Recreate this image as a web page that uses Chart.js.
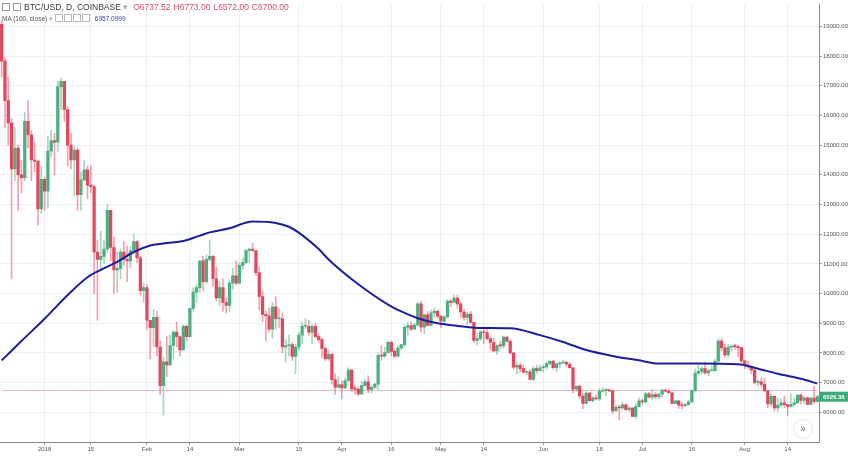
<!DOCTYPE html>
<html>
<head>
<meta charset="utf-8">
<script src="https://cdn.jsdelivr.net/npm/chart.js@4.4.0/dist/chart.umd.min.js"></script>
<style>
  body { margin: 0; background: #fff; font-family: "Liberation Sans", Arial, sans-serif; }
  #wrap { position: relative; width: 848px; height: 456px; }
  #c { position: absolute; left: 0; top: 0; }
  .leg { position: absolute; white-space: nowrap; }
  #l1 { left: 2px; top: 2px; font-size: 8.5px; color: #3a3a3a; }
  #l1 .ico { display: inline-block; width: 6px; height: 6px; border: 1px solid #999; margin-right: 3px; vertical-align: -1px; }
  #l1 .ohlc { color: #cf5068; margin-left: 5px; }
  #l1 .ohlc span { margin-right: 3px; }
  #l2 { left: 2px; top: 14px; font-size: 6.5px; color: #555; }
  #l2 .b { display: inline-block; width: 6px; height: 6px; border: 1px solid #bbb; margin-right: 1px; vertical-align: -1px; }
  #l2 .v { color: #3b3ba6; margin-left: 4px; }
  #more { position: absolute; left: 794px; top: 420px; width: 18px; height: 18px; border-radius: 50%;
          box-shadow: 0 0 2px rgba(0,0,0,0.25); background: #fff; color: #666; font-size: 10px;
          text-align: center; line-height: 17px; }
</style>
</head>
<body>
<div id="wrap">
  <canvas id="c" width="848" height="456"></canvas>
  <div class="leg" id="l1"><span class="ico"></span><span class="ico"></span>BTC/USD, D, COINBASE <span style="color:#aaa">▾</span><span class="ohlc"><span>O6737.52</span><span>H6773.00</span><span>L6572.00</span><span>C6700.00</span></span></div>
  <div class="leg" id="l2">MA (100, close) <span style="color:#aaa">▾</span> <span class="b"></span><span class="b"></span><span class="b"></span><span class="b"></span><span class="v">6957.0999</span></div>
  <div id="more">»</div>
</div>
<script>
// daily OHLC, 2017-12-19 .. 2018-08-23
const open = [
  19070,17830,16500,15750,14200,14900,14000,13900,15800,15350,14500,14450,12850,
  13850,13450,14800,15150,15100,16970,17150,16200,15000,14500,14830,13330,13830,14170,13650,13600,11400,11150,11250,11500,12800,11550,10800,10850,11400,11150,11100,11450,11750,11200,10100,
  10200,9100,8850,9200,8200,6900,7700,7600,8250,8700,8550,8100,8900,8550,9500,10050,10200,11100,10400,11150,11250,10500,9850,10200,9700,9600,10350,10600,
  10350,10950,11050,11450,11500,11450,10700,9900,9300,9250,8800,9550,9150,9150,8200,8250,8280,7880,8200,8600,8900,8900,8700,8900,8550,8450,8150,7800,7950,7100,6850,
  6930,6820,7070,7420,6790,6780,6620,6900,7030,6770,6840,6950,7920,7890,8010,8360,8050,7890,8170,8280,8860,8920,8800,8940,9650,8870,9280,8930,9350,9400,
  9240,9070,9220,9750,9700,9850,9650,9380,9200,9310,9030,8420,8480,8710,8680,8480,8350,8070,8250,8240,8530,8400,8000,7520,7580,7470,7350,7360,7110,7470,7400,
  7500,7530,7640,7720,7500,7630,7660,7690,7620,7500,6780,6880,6550,6300,6650,6390,6490,6450,6710,6740,6760,6720,6050,6170,6150,6250,6090,6140,5860,6190,
  6390,6350,6620,6510,6600,6530,6610,6750,6710,6660,6300,6390,6240,6220,6260,6350,6730,7320,7380,7470,7330,7400,7400,7720,8400,8170,7930,8190,8230,8210,8180,
  7730,7600,7540,7420,7010,7030,6940,6720,6280,6540,6150,6240,6320,6260,6200,6270,6320,6580,6400,6490,6270,6480,6360
];
const high = [
  19200,17950,17300,15900,15600,15000,14500,16100,16500,15500,15100,14500,14300,
  13900,15300,15500,15400,17150,17250,17150,16300,15400,14950,14900,14100,14500,14300,14300,13650,11800,12100,11800,13000,12800,11900,11400,11500,11750,11600,11600,12000,11800,11250,10350,
  10300,9100,9450,9400,8400,7850,8550,8600,8750,9050,8550,8950,8950,9500,10200,10300,11100,11250,11300,11800,11300,10900,10400,10500,9850,10450,10850,11100,
  11050,11200,11500,11520,11700,11450,10900,10100,9400,9500,9700,9900,9500,9350,8450,8600,8350,8300,8700,9050,9150,9100,8950,9000,8650,8500,8200,8100,7980,7300,7200,
  7050,7150,7500,7440,6920,6860,7050,7100,7200,6900,6980,8000,8250,8200,8400,8400,8150,8250,8300,8950,9050,9050,9000,9700,9750,9300,9400,9450,9500,9450,
  9250,9250,9800,9800,9950,9950,9700,9480,9370,9400,9030,8650,8750,8880,8850,8500,8500,8280,8400,8580,8550,8420,8000,7700,7650,7620,7400,7440,7540,7570,7600,
  7600,7700,7760,7760,7650,7700,7750,7700,7680,7500,6900,6890,6620,6700,6670,6540,6580,6800,6830,6800,6790,6730,6250,6240,6340,6290,6190,6170,6290,6480,
  6440,6680,6670,6770,6680,6640,6780,6800,6800,6680,6400,6400,6340,6320,6400,6750,7460,7580,7550,7690,7450,7560,7800,8480,8480,8300,8280,8230,8300,8260,8180,
  7760,7720,7540,7500,7090,7160,7150,6730,6620,6580,6480,6450,6550,6270,6620,6480,6600,6620,6550,6530,6500,6880,6570
];
const low = [
  17300,15600,15000,10500,13800,12800,13400,13800,14900,13800,14100,12300,12700,
  12800,12900,14600,14000,14800,16200,15800,14300,14200,13300,12800,12800,13800,13200,13400,10000,9100,10800,11000,11400,11100,10000,10050,10500,10950,10400,10850,11400,11050,9950,9700,
  8800,7800,8200,7900,6600,5900,7200,7600,7800,8200,7900,8100,8400,8550,9400,9700,10050,10100,10350,11100,10250,9750,9600,9400,9350,9400,10150,10300,
  10350,10800,11000,11050,11400,10600,9450,9050,8400,8700,8500,8800,8850,8000,7700,7900,7750,7300,8100,8300,8800,8600,8300,8500,8350,7850,7750,7750,6950,6600,6800,
  6450,6800,7030,6700,6600,6550,6600,6900,6650,6650,6800,6770,7750,7850,8000,7900,7850,7880,8100,8200,8600,8750,8800,8900,8700,8650,8900,8900,9200,9150,
  8850,9000,9150,9550,9700,9500,9200,9100,8950,9000,8350,8250,8420,8300,8450,8100,8030,7950,8150,8170,8350,7970,7450,7300,7350,7330,7260,7100,7060,7320,7380,
  7360,7460,7600,7450,7370,7500,7640,7550,7480,6650,6700,6450,6120,6300,6380,6340,6440,6400,6690,6560,6700,5950,6040,5750,6080,6060,6020,5850,5780,6180,
  6270,6300,6480,6430,6450,6450,6530,6700,6650,6300,6290,6130,6120,6200,6240,6330,6680,7250,7280,7280,7230,7390,7380,7700,8050,7860,7850,8070,8120,7870,7660,
  7460,7480,7300,6950,6880,6850,6700,6150,6200,6050,6020,6170,6150,5880,6170,6200,6300,6280,6300,6260,6260,6300,6340
];
const close = [
  17830,16500,15750,14200,14900,14000,13900,15800,15350,14500,14450,12850,13850,
  13450,14800,15150,15100,16970,17150,16200,15000,14500,14830,13330,13830,14170,13650,13600,11400,11150,11250,11500,12800,11550,10800,10850,11400,11150,11100,11450,11750,11200,10100,10200,
  9100,8850,9200,8200,6900,7700,7600,8250,8700,8550,8100,8900,8550,9500,10050,10200,11100,10400,11150,11250,10500,9850,10200,9700,9600,10350,10600,10350,
  10950,11050,11450,11500,11450,10700,9900,9300,9250,8800,9550,9150,9150,8200,8250,8280,7880,8200,8600,8900,8900,8700,8900,8550,8450,8150,7800,7950,7100,6850,6930,
  6820,7070,7420,6790,6780,6620,6900,7030,6770,6840,6950,7920,7890,8010,8360,8050,7890,8170,8280,8860,8920,8800,8940,9650,8870,9280,8930,9350,9400,9240,
  9070,9220,9750,9700,9850,9650,9380,9200,9310,9030,8420,8480,8710,8680,8480,8350,8070,8250,8240,8530,8400,8000,7520,7580,7470,7350,7360,7110,7470,7400,7500,
  7530,7640,7720,7500,7630,7660,7690,7620,7500,6780,6880,6550,6300,6650,6390,6490,6450,6710,6740,6760,6720,6050,6170,6150,6250,6090,6140,5860,6190,6390,
  6350,6620,6510,6600,6530,6610,6750,6710,6660,6300,6390,6240,6220,6260,6350,6730,7320,7380,7470,7330,7400,7400,7720,8400,8170,7930,8190,8230,8210,8180,7730,
  7600,7540,7420,7010,7030,6940,6720,6280,6540,6150,6240,6320,6260,6200,6270,6320,6580,6400,6490,6270,6480,6360,6526.36
];

// MA(100, close)
const maDates = ['2017-12-19','2017-12-25','2018-01-01','2018-01-08','2018-01-14','2018-01-18','2018-01-23','2018-01-28',
  '2018-02-02','2018-02-07','2018-02-12','2018-02-17','2018-02-20','2018-02-26','2018-03-05','2018-03-12','2018-03-16',
  '2018-03-20','2018-03-25','2018-03-28','2018-04-05','2018-04-15','2018-04-19','2018-04-24','2018-04-30','2018-05-07',
  '2018-05-12','2018-05-22','2018-05-31','2018-06-07','2018-06-14','2018-06-22','2018-06-30','2018-07-06',
  '2018-07-18','2018-07-30','2018-08-05','2018-08-11','2018-08-18','2018-08-23'];
const maValues = [7750,8400,9150,9950,10550,10800,11070,11400,
  11620,11700,11770,11950,12060,12200,12430,12380,12250,
  11970,11500,11150,10400,9630,9400,9170,9000,8900,
  8840,8830,8600,8370,8100,7900,7750,7640,
  7640,7620,7470,7300,7130,6970];

const tickDates = ['2018-01-01','2018-01-15','2018-02-01','2018-02-14','2018-03-01','2018-03-19','2018-04-01','2018-04-16',
  '2018-05-01','2018-05-14','2018-06-01','2018-06-18','2018-07-01','2018-07-16','2018-08-01','2018-08-14'];
const tickLabels = ['2018','15','Feb','14','Mar','19','Apr','16','May','14','Jun','18','Jul','16','Aug','14'];
const yTicks = [6000,7000,8000,9000,10000,11000,12000,13000,14000,15000,16000,17000,18000,19000];

const refLine = 6735;
const lastPrice = close[close.length - 1];

const dates = open.map((_, i) => new Date(Date.UTC(2017, 11, 19 + i)).toISOString().slice(0, 10));

const upColor = '#4caf80', downColor = '#e2475d';
const upWick = 'rgba(76,175,128,0.5)', downWick = 'rgba(226,71,93,0.5)';
const isUp = close.map((c, i) => c >= open[i]);

const priceTag = {
  id: 'priceTag',
  afterDraw(chart) {
    const ctx = chart.ctx;
    const y = chart.scales.y.getPixelForValue(lastPrice);
    const x0 = chart.chartArea.right + 1;
    ctx.save();
    ctx.fillStyle = '#3fa877';
    ctx.fillRect(x0, y - 5, 848 - x0, 10);
    ctx.fillStyle = '#fff';
    ctx.font = 'bold 6px "Liberation Sans", Arial, sans-serif';
    ctx.textBaseline = 'middle';
    ctx.fillText(lastPrice.toFixed(2), x0 + 3, y + 0.5);
    ctx.restore();
  }
};

new Chart(document.getElementById('c'), {
  data: {
    labels: dates,
    datasets: [
      {
        type: 'line',
        data: [{ x: dates[0], y: refLine }, { x: dates[dates.length - 1], y: refLine }],
        borderColor: '#eab8c0',
        borderWidth: 1,
        pointRadius: 0,
        order: 4
      },
      {
        type: 'bar',
        data: dates.map((d, i) => [low[i], high[i]]),
        backgroundColor: isUp.map(u => u ? upWick : downWick),
        barThickness: 1,
        grouped: false,
        order: 3
      },
      {
        type: 'bar',
        data: dates.map((d, i) => [open[i], close[i]]),
        backgroundColor: isUp.map(u => u ? upColor : downColor),
        barThickness: 2.6,
        minBarLength: 1,
        grouped: false,
        order: 2
      },
      {
        type: 'line',
        data: maDates.map((d, i) => ({ x: d, y: maValues[i] })),
        borderColor: '#1d1e9e',
        borderWidth: 2,
        pointRadius: 0,
        cubicInterpolationMode: 'monotone',
        order: 0
      }
    ]
  },
  options: {
    responsive: false,
    animation: false,
    devicePixelRatio: 1,
    layout: { padding: 0 },
    plugins: { legend: { display: false }, tooltip: { enabled: false } },
    scales: {
      x: {
        type: 'category',
        offset: true,
        grid: { offset: false, color: '#eef1f4', tickLength: 3, tickColor: '#999' },
        border: { color: '#8a8a8a' },
        ticks: {
          autoSkip: false,
          maxRotation: 0,
          minRotation: 0,
          padding: 1,
          color: '#555',
          font: { size: 6, family: '"Liberation Sans", Arial, sans-serif' },
          callback: function (v) {
            const i = tickDates.indexOf(this.getLabelForValue(v));
            return i < 0 ? null : tickLabels[i];
          }
        },
        afterFit: s => { s.height = 14; }
      },
      y: {
        position: 'right',
        min: 5000,
        max: 19733,
        grid: { color: '#eef1f4', tickLength: 3, tickColor: '#999' },
        border: { color: '#8a8a8a' },
        ticks: {
          padding: 1,
          color: '#555',
          font: { size: 6, family: '"Liberation Sans", Arial, sans-serif' },
          callback: v => v.toFixed(2)
        },
        afterBuildTicks: s => { s.ticks = yTicks.map(v => ({ value: v })); },
        afterFit: s => { s.width = 29; }
      }
    }
  },
  plugins: [priceTag]
});
</script>
</body>
</html>
